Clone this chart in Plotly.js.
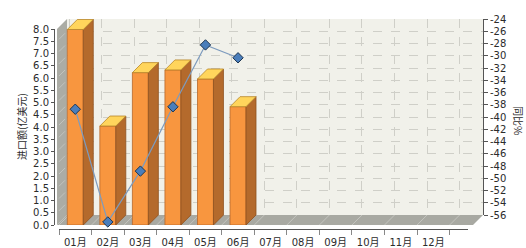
<!DOCTYPE html>
<html>
<head>
<meta charset="utf-8">
<script src="https://cdn.plot.ly/plotly-3.0.1.min.js"></script>
<style>
  html, body { margin: 0; padding: 0; background: #ffffff; }
  #chart { width: 526px; height: 248px; }
</style>
</head>
<body>
<div id="chart"></div>
<script>
// Monthly import value (bars, left axis) and year-on-year change (line, right axis)
const months = ['01月', '02月', '03月', '04月', '05月', '06月', '07月', '08月', '09月', '10月', '11月', '12月'];
const imports = [7.98, 4.04, 6.22, 6.33, 5.96, 4.83];          // 进口额 (亿美元)
const growth = [-37.1, -55.5, -47.2, -36.7, -26.6, -28.7];      // 同比 %

const leftTickVals = [0, 0.5, 1, 1.5, 2, 2.5, 3, 3.5, 4, 4.5, 5, 5.5, 6, 6.5, 7, 7.5, 8];
const rightTickVals = [-56, -54, -52, -50, -48, -46, -44, -42, -40, -38, -36, -34, -32, -30, -28, -26, -24];
const rightTickText = ['-56', '-54', '-52', '-50', '-48', '-46', '-44', '-42', '-40', '-38', '-36', '-34', '-32', '-30', '-28', '-26', '-24'];

// ---- pseudo-3D geometry (pixels) ----
const W = 526, H = 248;
const M = { l: 54, r: 43, t: 19, b: 19 };
const PW = W - M.l - M.r, PH = H - M.t - M.b;
const fx = p => (p - M.l) / PW;          // pixel x -> paper
const fy = p => (H - M.b - p) / PH;      // pixel y -> paper

const CAT = 32.55;       // px per category
const UNIT = 24.5;       // px per 1.0 on the left axis
const DEPTH = 10;        // depth offset of the 3D box (px right and up)
const FRONT_L = 59, AXIS_R = 468, BACK_R = 483, WALL_L = 57;
const FLOOR_Y = 225, TOP_Y = 29, BOTTOM = H - M.b, TOPPX = M.t;

const yMax = leftTickVals[leftTickVals.length - 1];
const rMin = rightTickVals[0], rMax = rightTickVals[rightTickVals.length - 1];
const rUnit = (FLOOR_Y - TOP_Y) / (rMax - rMin);

const ddx = DEPTH / CAT, ddy = DEPTH / UNIT;
const bw = 0.49;

// front-plane category axis range
const x2Range = [-0.5, -0.5 + (AXIS_R - FRONT_L) / CAT];
// back-wall axis (same scale, shifted by the depth)
const xBackRange = [(WALL_L - FRONT_L) / CAT - 0.5, (BACK_R - FRONT_L - DEPTH) / CAT - 0.5];

// top and side faces of each bar, built from the bar values
const topX = [], topY = [], sideX = [], sideY = [];
imports.forEach((v, i) => {
  const x0 = i - bw / 2, x1 = i + bw / 2;
  topX.push(x0, x1, x1 + ddx, x0 + ddx, x0, null);
  topY.push(v, v, v + ddy, v + ddy, v, null);
  sideX.push(x1, x1, x1 + ddx, x1 + ddx, x1, null);
  sideY.push(0, v, v + ddy, ddy, 0, null);
});
const idx = imports.map((_, i) => i);
const gIdx = growth.map((_, i) => i);

const font = { family: 'DejaVu Sans, Noto Sans CJK SC, sans-serif', size: 10, color: '#2b2b2b' };

const traces = [
  { // registers the back-wall subplot (grid + right axis); draws nothing
    type: 'scatter', mode: 'none', x: [], y: [], xaxis: 'x', yaxis: 'y',
    hoverinfo: 'skip', showlegend: false
  },
  { // front faces
    type: 'bar', x: idx, y: imports, xaxis: 'x2', yaxis: 'y2', width: bw,
    marker: { color: '#F8963F', line: { color: '#B8672A', width: 0.8 } },
    hoverinfo: 'skip', showlegend: false
  },
  { // side faces
    type: 'scatter', mode: 'lines', x: sideX, y: sideY, xaxis: 'x2', yaxis: 'y3',
    fill: 'toself', fillcolor: '#B46A2C', line: { color: '#8E5020', width: 0.8 },
    hoverinfo: 'skip', showlegend: false
  },
  { // top faces
    type: 'scatter', mode: 'lines', x: topX, y: topY, xaxis: 'x2', yaxis: 'y3',
    fill: 'toself', fillcolor: '#FFD55C', line: { color: '#B8862A', width: 0.8 },
    hoverinfo: 'skip', showlegend: false
  },
  { // growth line
    type: 'scatter', mode: 'lines+markers', x: gIdx, y: growth, xaxis: 'x2', yaxis: 'y5',
    line: { color: '#7D9BBE', width: 1.2 },
    marker: { symbol: 'diamond', size: 8, color: '#4A7EBB', line: { color: '#1E3550', width: 1 } },
    cliponaxis: false, hoverinfo: 'skip', showlegend: false
  }
];

// floor streaks at category boundaries
const streaks = months.concat(['']).map((_, k) => {
  const p = FRONT_L + k * CAT;
  return {
    type: 'line', xref: 'paper', yref: 'paper', layer: 'below',
    x0: fx(p), y0: fy(FLOOR_Y), x1: fx(p + DEPTH), y1: fy(FLOOR_Y - DEPTH),
    line: { color: '#C4C5BF', width: 1 }
  };
});
// side-wall streaks at each left-axis step
const wallStreaks = leftTickVals.slice(1, -1).map(v => {
  const p = FLOOR_Y - v * UNIT;
  return {
    type: 'line', xref: 'paper', yref: 'paper', layer: 'below',
    x0: fx(WALL_L + 2), y0: fy(p - 2), x1: fx(WALL_L + DEPTH - 2), y1: fy(p - DEPTH + 2),
    line: { color: '#C2C3BD', width: 1 }
  };
});

const P = (pts) => 'M' + pts.map(([a, b]) => fx(a) + ',' + fy(b)).join(' L') + ' Z';

const shapes = [
  { // back wall
    type: 'rect', xref: 'paper', yref: 'paper',
    x0: fx(WALL_L + DEPTH), x1: fx(BACK_R), y0: fy(FLOOR_Y - DEPTH), y1: fy(TOPPX),
    fillcolor: '#F1F1EA', line: { width: 0 }, layer: 'below'
  },
  { // left side wall
    type: 'path', xref: 'paper', yref: 'paper', layer: 'below',
    path: P([[WALL_L, FLOOR_Y], [WALL_L, TOP_Y], [WALL_L + DEPTH, TOP_Y - DEPTH], [WALL_L + DEPTH, FLOOR_Y - DEPTH]]),
    fillcolor: '#ABACA5', line: { width: 0 }
  },
  { // floor
    type: 'path', xref: 'paper', yref: 'paper', layer: 'below',
    path: P([[WALL_L, FLOOR_Y], [BACK_R - DEPTH, FLOOR_Y], [BACK_R, FLOOR_Y - DEPTH], [WALL_L + DEPTH, FLOOR_Y - DEPTH]]),
    fillcolor: '#A8A9A2', line: { width: 0 }
  }
].concat(streaks, wallStreaks);

const layout = {
  width: W, height: H,
  margin: M,
  paper_bgcolor: '#ffffff', plot_bgcolor: 'rgba(0,0,0,0)',
  font: font,
  showlegend: false,
  // back wall: vertical grid + right-hand axis
  xaxis: {
    type: 'linear', domain: [fx(WALL_L + DEPTH), 1], range: xBackRange, anchor: 'y',
    tickmode: 'linear', tick0: -0.5, dtick: 1,
    showgrid: true, gridcolor: '#CFCFC8', griddash: 'dash', gridwidth: 1,
    showticklabels: false, ticks: '', zeroline: false, showline: false
  },
  yaxis: {
    domain: [fy(FLOOR_Y - DEPTH), 1], range: [rMin, rMax], anchor: 'x', side: 'right',
    tickmode: 'array', tickvals: rightTickVals, ticktext: rightTickText,
    showgrid: true, gridcolor: '#CFCFC8', griddash: 'dash', gridwidth: 1,
    ticks: 'outside', ticklen: 4, tickcolor: '#555', showline: true, linecolor: '#555', linewidth: 1,
    zeroline: false, tickfont: font
  },
  // front plane: categories
  xaxis2: {
    type: 'linear', domain: [fx(FRONT_L), fx(AXIS_R)], range: x2Range, anchor: 'free', position: 0,
    tickmode: 'array', tickvals: months.map((_, i) => i), ticktext: months,
    ticks: '', showgrid: false, zeroline: false,
    showline: true, linecolor: '#555', linewidth: 1,
    minor: { tickmode: 'array', tickvals: months.concat(['']).map((_, k) => k - 0.5), ticks: 'outside', ticklen: 5, tickcolor: '#888', showgrid: false },
    ticklabelstandoff: 4, tickfont: font
  },
  // front plane: left value axis
  yaxis2: {
    domain: [fy(FLOOR_Y), fy(TOP_Y)], range: [0, yMax], anchor: 'free', position: 0,
    tickmode: 'array', tickvals: leftTickVals, tickformat: '.1f',
    ticks: 'outside', ticklen: 3, tickcolor: '#555', showline: true, linecolor: '#555', linewidth: 1,
    showgrid: false, zeroline: false, tickfont: font
  },
  // full-height helper scale for the 3D faces
  yaxis3: {
    domain: [0, 1], anchor: 'x2', visible: false,
    range: [-(BOTTOM - FLOOR_Y) / UNIT, yMax + (TOP_Y - TOPPX) / UNIT]
  },
  // growth scale on the front plane
  yaxis5: {
    overlaying: 'y3', anchor: 'x2', visible: false,
    range: [rMin - (BOTTOM - FLOOR_Y) / rUnit, rMax + (TOP_Y - TOPPX) / rUnit]
  },
  shapes: shapes,
  annotations: [
    {
      text: '进口额(亿美元)', xref: 'paper', yref: 'paper', x: fx(22), y: fy(127),
      textangle: -90, showarrow: false, xanchor: 'center', yanchor: 'middle',
      font: { family: 'Noto Sans CJK SC, sans-serif', size: 10, color: '#2b2b2b' }
    },
    {
      text: '同比%', xref: 'paper', yref: 'paper', x: fx(518), y: fy(120),
      textangle: 90, showarrow: false, xanchor: 'center', yanchor: 'middle',
      font: { family: 'Noto Sans CJK SC, sans-serif', size: 10, color: '#2b2b2b' }
    }
  ]
};

Plotly.newPlot('chart', traces, layout, { staticPlot: true, displayModeBar: false });
</script>
</body>
</html>
